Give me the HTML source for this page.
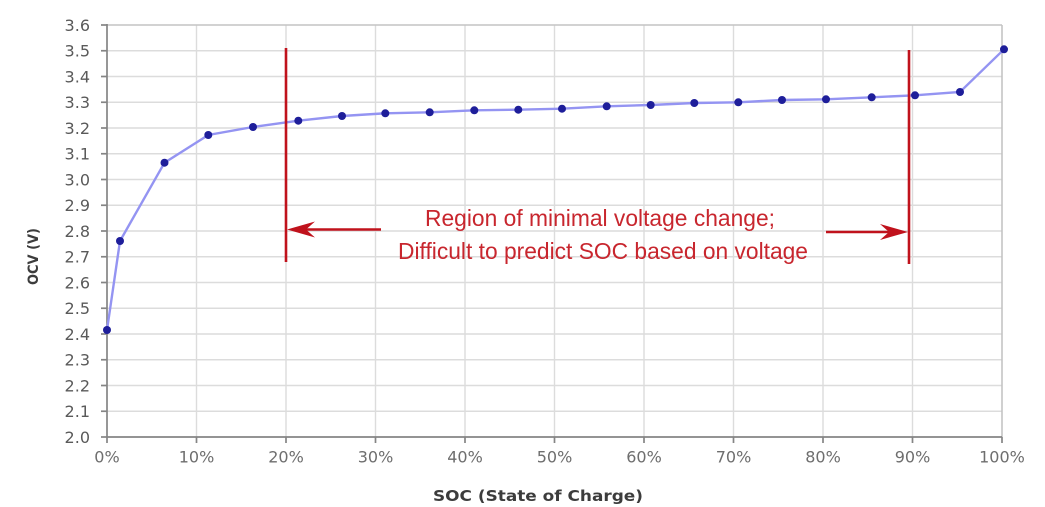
<!DOCTYPE html>
<html><head><meta charset="utf-8"><style>
html,body{margin:0;padding:0;background:#fff;}
svg{display:block;}
</style></head><body>
<svg width="1045" height="507" viewBox="0 0 1045 507" xmlns="http://www.w3.org/2000/svg">
<rect width="1045" height="507" fill="#fff"/>
<g stroke="#dcdcdc" stroke-width="1.4">
<line x1="107" y1="50.75" x2="1002" y2="50.75"/>
<line x1="107" y1="76.5" x2="1002" y2="76.5"/>
<line x1="107" y1="102.25" x2="1002" y2="102.25"/>
<line x1="107" y1="128" x2="1002" y2="128"/>
<line x1="107" y1="153.75" x2="1002" y2="153.75"/>
<line x1="107" y1="179.5" x2="1002" y2="179.5"/>
<line x1="107" y1="205.25" x2="1002" y2="205.25"/>
<line x1="107" y1="231" x2="1002" y2="231"/>
<line x1="107" y1="256.75" x2="1002" y2="256.75"/>
<line x1="107" y1="282.5" x2="1002" y2="282.5"/>
<line x1="107" y1="308.25" x2="1002" y2="308.25"/>
<line x1="107" y1="334" x2="1002" y2="334"/>
<line x1="107" y1="359.75" x2="1002" y2="359.75"/>
<line x1="107" y1="385.5" x2="1002" y2="385.5"/>
<line x1="107" y1="411.25" x2="1002" y2="411.25"/>
<line x1="196.5" y1="25" x2="196.5" y2="437"/>
<line x1="286" y1="25" x2="286" y2="437"/>
<line x1="375.5" y1="25" x2="375.5" y2="437"/>
<line x1="465" y1="25" x2="465" y2="437"/>
<line x1="554.5" y1="25" x2="554.5" y2="437"/>
<line x1="644" y1="25" x2="644" y2="437"/>
<line x1="733.5" y1="25" x2="733.5" y2="437"/>
<line x1="823" y1="25" x2="823" y2="437"/>
<line x1="912.5" y1="25" x2="912.5" y2="437"/>
</g>
<g stroke="#c4c4c4" stroke-width="1.6" fill="none">
<line x1="107" y1="25" x2="1002" y2="25"/>
<line x1="1002" y1="25" x2="1002" y2="437"/>
</g>
<g stroke="#858585" stroke-width="1.7">
<line x1="107" y1="24" x2="107" y2="437"/>
<line x1="107" y1="437" x2="1002" y2="437"/>
<line x1="101" y1="25" x2="107" y2="25"/>
<line x1="101" y1="50.75" x2="107" y2="50.75"/>
<line x1="101" y1="76.5" x2="107" y2="76.5"/>
<line x1="101" y1="102.25" x2="107" y2="102.25"/>
<line x1="101" y1="128" x2="107" y2="128"/>
<line x1="101" y1="153.75" x2="107" y2="153.75"/>
<line x1="101" y1="179.5" x2="107" y2="179.5"/>
<line x1="101" y1="205.25" x2="107" y2="205.25"/>
<line x1="101" y1="231" x2="107" y2="231"/>
<line x1="101" y1="256.75" x2="107" y2="256.75"/>
<line x1="101" y1="282.5" x2="107" y2="282.5"/>
<line x1="101" y1="308.25" x2="107" y2="308.25"/>
<line x1="101" y1="334" x2="107" y2="334"/>
<line x1="101" y1="359.75" x2="107" y2="359.75"/>
<line x1="101" y1="385.5" x2="107" y2="385.5"/>
<line x1="101" y1="411.25" x2="107" y2="411.25"/>
<line x1="101" y1="437" x2="107" y2="437"/>
<line x1="107" y1="437" x2="107" y2="443"/>
<line x1="196.5" y1="437" x2="196.5" y2="443"/>
<line x1="286" y1="437" x2="286" y2="443"/>
<line x1="375.5" y1="437" x2="375.5" y2="443"/>
<line x1="465" y1="437" x2="465" y2="443"/>
<line x1="554.5" y1="437" x2="554.5" y2="443"/>
<line x1="644" y1="437" x2="644" y2="443"/>
<line x1="733.5" y1="437" x2="733.5" y2="443"/>
<line x1="823" y1="437" x2="823" y2="443"/>
<line x1="912.5" y1="437" x2="912.5" y2="443"/>
<line x1="1002" y1="437" x2="1002" y2="443"/>
</g>
<g font-family="'DejaVu Sans', sans-serif" font-size="16" fill="#5a5a5a" text-anchor="end">
<text x="90" y="30.8">3.6</text>
<text x="90" y="56.55">3.5</text>
<text x="90" y="82.3">3.4</text>
<text x="90" y="108.05">3.3</text>
<text x="90" y="133.8">3.2</text>
<text x="90" y="159.55">3.1</text>
<text x="90" y="185.3">3.0</text>
<text x="90" y="211.05">2.9</text>
<text x="90" y="236.8">2.8</text>
<text x="90" y="262.55">2.7</text>
<text x="90" y="288.3">2.6</text>
<text x="90" y="314.05">2.5</text>
<text x="90" y="339.8">2.4</text>
<text x="90" y="365.55">2.3</text>
<text x="90" y="391.3">2.2</text>
<text x="90" y="417.05">2.1</text>
<text x="90" y="442.8">2.0</text>
</g>
<g font-family="'DejaVu Sans', sans-serif" font-size="16" fill="#6e6e6e" text-anchor="middle">
<text x="107" y="462.5">0%</text>
<text x="196.5" y="462.5">10%</text>
<text x="286" y="462.5">20%</text>
<text x="375.5" y="462.5">30%</text>
<text x="465" y="462.5">40%</text>
<text x="554.5" y="462.5">50%</text>
<text x="644" y="462.5">60%</text>
<text x="733.5" y="462.5">70%</text>
<text x="823" y="462.5">80%</text>
<text x="912.5" y="462.5">90%</text>
<text x="1002" y="462.5">100%</text>
</g>
<text x="433" y="501" font-family="'DejaVu Sans', sans-serif" font-weight="bold" font-size="15" fill="#3c3c3c" textLength="210" lengthAdjust="spacingAndGlyphs">SOC (State of Charge)</text>
<text transform="translate(38,285) rotate(-90)" x="0" y="0" font-family="'DejaVu Sans', sans-serif" font-weight="bold" font-size="14" fill="#3c3c3c" textLength="57" lengthAdjust="spacingAndGlyphs">OCV (V)</text>
<polyline fill="none" stroke="#9494f2" stroke-width="2.4" points="107,330 120,241 164.5,162.7 208.3,135 253,127 298.3,120.7 342,116 385.3,113.3 429.7,112.3 474.3,110.3 518.3,109.7 562,108.7 606.7,106.3 650.7,105 694.3,103 738.3,102.3 782,100 826,99.3 871.7,97.3 915,95.3 960,92 1004,49.3"/>
<g fill="#1e1e9a">
<circle cx="107" cy="330" r="4"/>
<circle cx="120" cy="241" r="4"/>
<circle cx="164.5" cy="162.7" r="4"/>
<circle cx="208.3" cy="135" r="4"/>
<circle cx="253" cy="127" r="4"/>
<circle cx="298.3" cy="120.7" r="4"/>
<circle cx="342" cy="116" r="4"/>
<circle cx="385.3" cy="113.3" r="4"/>
<circle cx="429.7" cy="112.3" r="4"/>
<circle cx="474.3" cy="110.3" r="4"/>
<circle cx="518.3" cy="109.7" r="4"/>
<circle cx="562" cy="108.7" r="4"/>
<circle cx="606.7" cy="106.3" r="4"/>
<circle cx="650.7" cy="105" r="4"/>
<circle cx="694.3" cy="103" r="4"/>
<circle cx="738.3" cy="102.3" r="4"/>
<circle cx="782" cy="100" r="4"/>
<circle cx="826" cy="99.3" r="4"/>
<circle cx="871.7" cy="97.3" r="4"/>
<circle cx="915" cy="95.3" r="4"/>
<circle cx="960" cy="92" r="4"/>
<circle cx="1004" cy="49.3" r="4"/>
</g>
<g stroke="#c0121c" stroke-width="2.6">
<line x1="286" y1="48" x2="286" y2="262"/>
<line x1="909" y1="50" x2="909" y2="264"/>
<line x1="292" y1="229.5" x2="381" y2="229.5"/>
<line x1="826" y1="232" x2="902" y2="232"/>
</g>
<g fill="#c0121c">
<path d="M287,229.5 L315,221.5 L306,229.5 L315,237.5 Z"/>
<path d="M908,232 L880,224 L889,232 L880,240 Z"/>
</g>
<g font-family="'Liberation Sans', sans-serif" font-size="23" fill="#c8262e">
<text x="425" y="226" textLength="350" lengthAdjust="spacingAndGlyphs">Region of minimal voltage change;</text>
<text x="398" y="259" textLength="410" lengthAdjust="spacingAndGlyphs">Difficult to predict SOC based on voltage</text>
</g>
</svg>
</body></html>
